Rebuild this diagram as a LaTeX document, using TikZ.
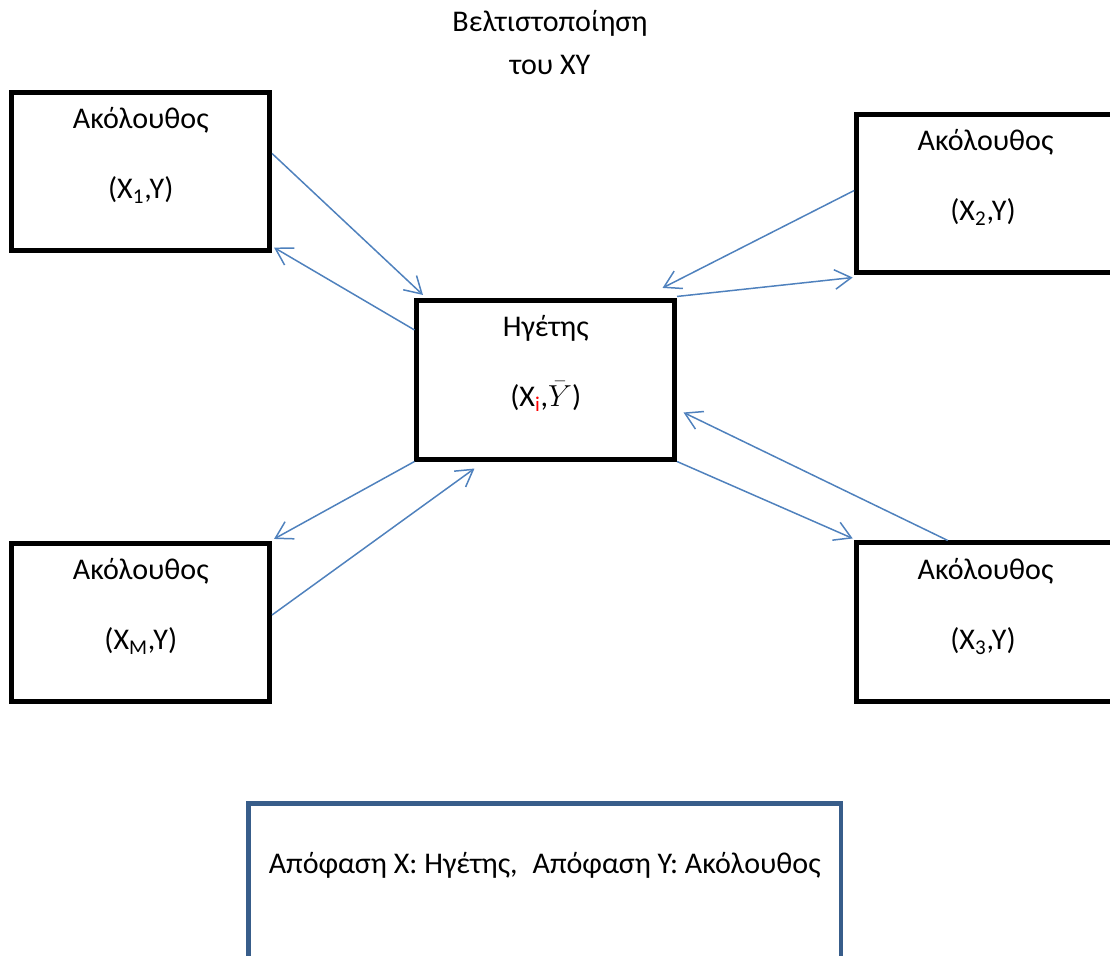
\documentclass[tikz,border=0pt]{standalone}
\usepackage{fontspec}
\setmainfont{Carlito}
\usepackage{amsmath}
\usetikzlibrary{arrows.meta}
\definecolor{arrowblue}{RGB}{79,129,189}
\definecolor{legendblue}{RGB}{56,93,138}

\begin{document}
\begin{tikzpicture}[font=\fontsize{17.1}{20}\selectfont,
		box/.style={draw, line width=2.6pt, minimum width=5.16cm, minimum height=3.17cm, inner sep=0pt},
		arr/.style={arrowblue, line width=0.85pt, -{Straight Barb[length=3.3mm,width=3.9mm]}},
		txt/.style={anchor=base}]
		%\draw [help lines] (0,0) grid (22,19);
		\useasboundingbox (0,0) rectangle (22.2,19.12);
		\node [txt] (title1) at (11.0,18.49) {Βελτιστοποίηση};
		\node [txt] (title2) at (11.0,17.62) {του XY};
		
		\node [box] (fx1) at (2.815,15.69) {};
		\node [txt] (fx1name) at ([yshift=-.78cm]fx1.north) {Ακόλουθος};
		\node [txt] (fx1var) at ([yshift=-2.18cm]fx1.north) {(X\textsubscript{1},Y)};
		
		\node [box] (fx2) at (19.71,15.25) {};
		\node [txt] (fx2name) at ([yshift=-.78cm]fx2.north) {Ακόλουθος};
		\node [txt] (fx2var) at ([xshift=-.05cm,yshift=-2.18cm]fx2.north) {(X\textsubscript{2},Y)};
		
		\node [box] (lead) at (10.915,11.52) {};
		\node [txt] (leadname) at ([yshift=-.76cm]lead.north) {Ηγέτης};
		\node [txt] (leadvar) at ([yshift=-2.16cm]lead.north) {(X\textsubscript{\color{red}i},$\bar{Y}$)};
		
		\node [box] (fxm) at (2.815,6.67) {};
		\node [txt] (fxmname) at ([yshift=-.78cm]fxm.north) {Ακόλουθος};
		\node [txt] (fxmvar) at ([yshift=-2.18cm]fxm.north) {(X\textsubscript{M},Y)};
		
		\node [box] (fx3) at (19.71,6.68) {};
		\node [txt] (fx3name) at ([yshift=-.79cm]fx3.north) {Ακόλουθος};
		\node [txt] (fx3var) at ([xshift=-.05cm,yshift=-2.19cm]fx3.north) {(X\textsubscript{3},Y)};
		
		\node [box,legendblue,minimum width=11.85cm] (legend) at (10.893,1.47) {};
		\node [txt] (legendtext) at ([yshift=-1.46cm]legend.north) {Απόφαση X: Ηγέτης,\hspace{0.3cm}Απόφαση Y: Ακόλουθος};
		
		% follower 1
		\draw [arr] ([yshift=.36cm]fx1.east) -- ([xshift=.17cm,yshift=.07cm]lead.north west);
		\draw [arr] ([yshift=-.63cm]lead.north west) -- ([xshift=.04cm,yshift=.11cm]fx1.south east);
		% follower 2
		\draw [arr] ([yshift=.06cm]fx2.west) -- ([xshift=-.29cm,yshift=.21cm]lead.north east);
		\draw [arr] ([yshift=.04cm]lead.north east) -- ([xshift=-.03cm,yshift=-.05cm]fx2.south west);
		% follower M
		\draw [arr] (lead.south west) -- ([xshift=.04cm,yshift=.04cm]fxm.north east);
		\draw [arr] ([yshift=.15cm]fxm.east) -- ([xshift=1.2cm,yshift=-.14cm]lead.south west);
		% follower 3
		\draw [arr] ([xshift=1.87cm]fx3.north west) -- ([xshift=.13cm,yshift=-.65cm]lead.east);
		\draw [arr] (lead.south east) -- ([xshift=-.03cm,yshift=.04cm]fx3.north west);
	\end{tikzpicture}
\end{document}
